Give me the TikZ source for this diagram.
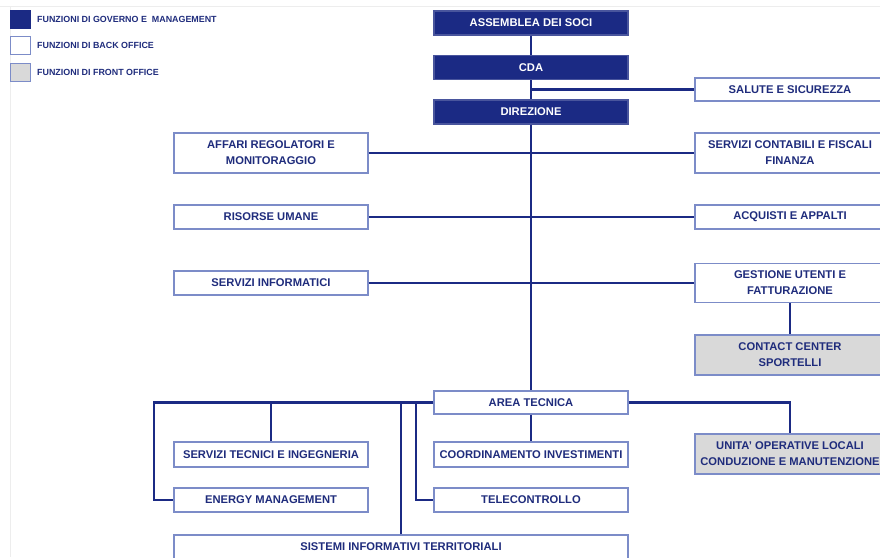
\documentclass[tikz,border=0pt]{standalone}
\usepackage{fontspec}
\setmainfont{Liberation Sans}
\usepackage{tikz}
\usetikzlibrary{positioning}

\definecolor{navy}{HTML}{1B2A84}
\definecolor{navytext}{HTML}{1F2C7C}
\definecolor{edge}{HTML}{7C8CC8}
\definecolor{front}{HTML}{D9D9D9}

\begin{document}
\begin{tikzpicture}[
	x=1pt, y=-1pt,
	font=\bfseries\fontsize{11.2}{16}\selectfont,
	box/.style = {draw=edge, line width=1.3pt, text=navytext, align=center, inner sep=1pt, minimum height=24pt},
	govbox/.style = {box, fill=navy, draw=navy!80!white, text=white, minimum width=194pt},
	backbox/.style = {box, fill=white, minimum width=194pt},
	rightbox/.style = {box, fill=white, minimum width=190pt},
	frontbox/.style = {rightbox, fill=front},
	link/.style = {draw=navy, line width=2.6pt},
	legsq/.style = {draw=edge, line width=1pt, minimum width=20pt, minimum height=18pt, inner sep=0pt},
	legtext/.style = {text=navytext, font=\bfseries\fontsize{8.9}{10}\selectfont, anchor=west, inner sep=0pt}
  ]
	\useasboundingbox (0,0) rectangle (880,557);
	\clip (0,0) rectangle (880,557);

	% faint page frame
	\draw[black!7, line width=1pt] (0,6) -- (880,6);
	\draw[black!7, line width=1pt] (10,6) -- (10,557);

	% legend
	\node[legsq, fill=navy, draw=navy] (leg1) at (20,19) {};
	\node[legsq, fill=white] (leg2) at (20,45) {};
	\node[legsq, fill=front] (leg3) at (20,72) {};
	\node[legtext] at (37,19) {FUNZIONI DI GOVERNO E\ \ MANAGEMENT};
	\node[legtext] at (37,45) {FUNZIONI DI BACK OFFICE};
	\node[legtext] at (37,72) {FUNZIONI DI FRONT OFFICE};

	% governo
	\node[govbox] (assemblea) at (531,23) {ASSEMBLEA DEI SOCI};
	\node[govbox] (cda) at (531,67.5) {CDA};
	\node[govbox] (direzione) at (531,112) {DIREZIONE};

	% staff
	\node[rightbox, minimum height=23pt] (salute) at (790,89.5) {SALUTE E SICUREZZA};
	\node[backbox, minimum height=40pt] (affari) at (271,153) {AFFARI REGOLATORI E\\MONITORAGGIO};
	\node[rightbox, minimum height=40pt] (contabili) at (790,153) {SERVIZI CONTABILI E FISCALI\\FINANZA};
	\node[backbox] (risorse) at (271,217) {RISORSE UMANE};
	\node[rightbox] (acquisti) at (790,217) {ACQUISTI E APPALTI};
	\node[backbox] (informatici) at (271,283) {SERVIZI INFORMATICI};
	\node[rightbox, minimum height=39pt] (gestione) at (790,283) {GESTIONE UTENTI E\\FATTURAZIONE};
	\node[frontbox, minimum height=40pt] (contact) at (790,355) {CONTACT CENTER\\SPORTELLI};

	% area tecnica
	\node[backbox, minimum height=23pt] (area) at (531,402.5) {AREA TECNICA};
	\node[backbox, minimum height=25pt] (tecnici) at (271,454.5) {SERVIZI TECNICI E INGEGNERIA};
	\node[backbox, minimum height=25pt] (coord) at (531,454.5) {COORDINAMENTO INVESTIMENTI};
	\node[backbox] (energy) at (271,500) {ENERGY MANAGEMENT};
	\node[backbox] (telecontrollo) at (531,500) {TELECONTROLLO};
	\node[backbox, minimum width=454pt] (sistemi) at (401,547) {SISTEMI INFORMATIVI TERRITORIALI};
	\node[frontbox, minimum height=40pt] (unita) at (790,454) {UNITA' OPERATIVE LOCALI\\CONDUZIONE E MANUTENZIONE};

	\coordinate (ebend) at (154,500);
	\coordinate (tbend) at (416,402.5);

	\draw[link] (assemblea) -- (cda);
	\draw[link] (cda) -- (direzione);
	\draw[link] (direzione) -- (area);
	\draw[link] (salute.west) -- (salute.west -| direzione);
	\draw[link] (affari) -- (contabili);
	\draw[link] (risorse) -- (acquisti);
	\draw[link] (informatici) -- (gestione);
	\draw[link] (gestione) -- (contact);

	\draw[link] (area.west) -| (ebend) -- (energy.west);
	\draw[link] (tecnici.north) -- (tecnici.north |- area.west);
	\draw[link] (sistemi.north) -- (sistemi.north |- area.west);
	\draw[link] (tbend) |- (telecontrollo.west);
	\draw[link] (area) -- (coord);
	\draw[link] (area.east) -| (unita.north);

\end{tikzpicture}
\end{document}
